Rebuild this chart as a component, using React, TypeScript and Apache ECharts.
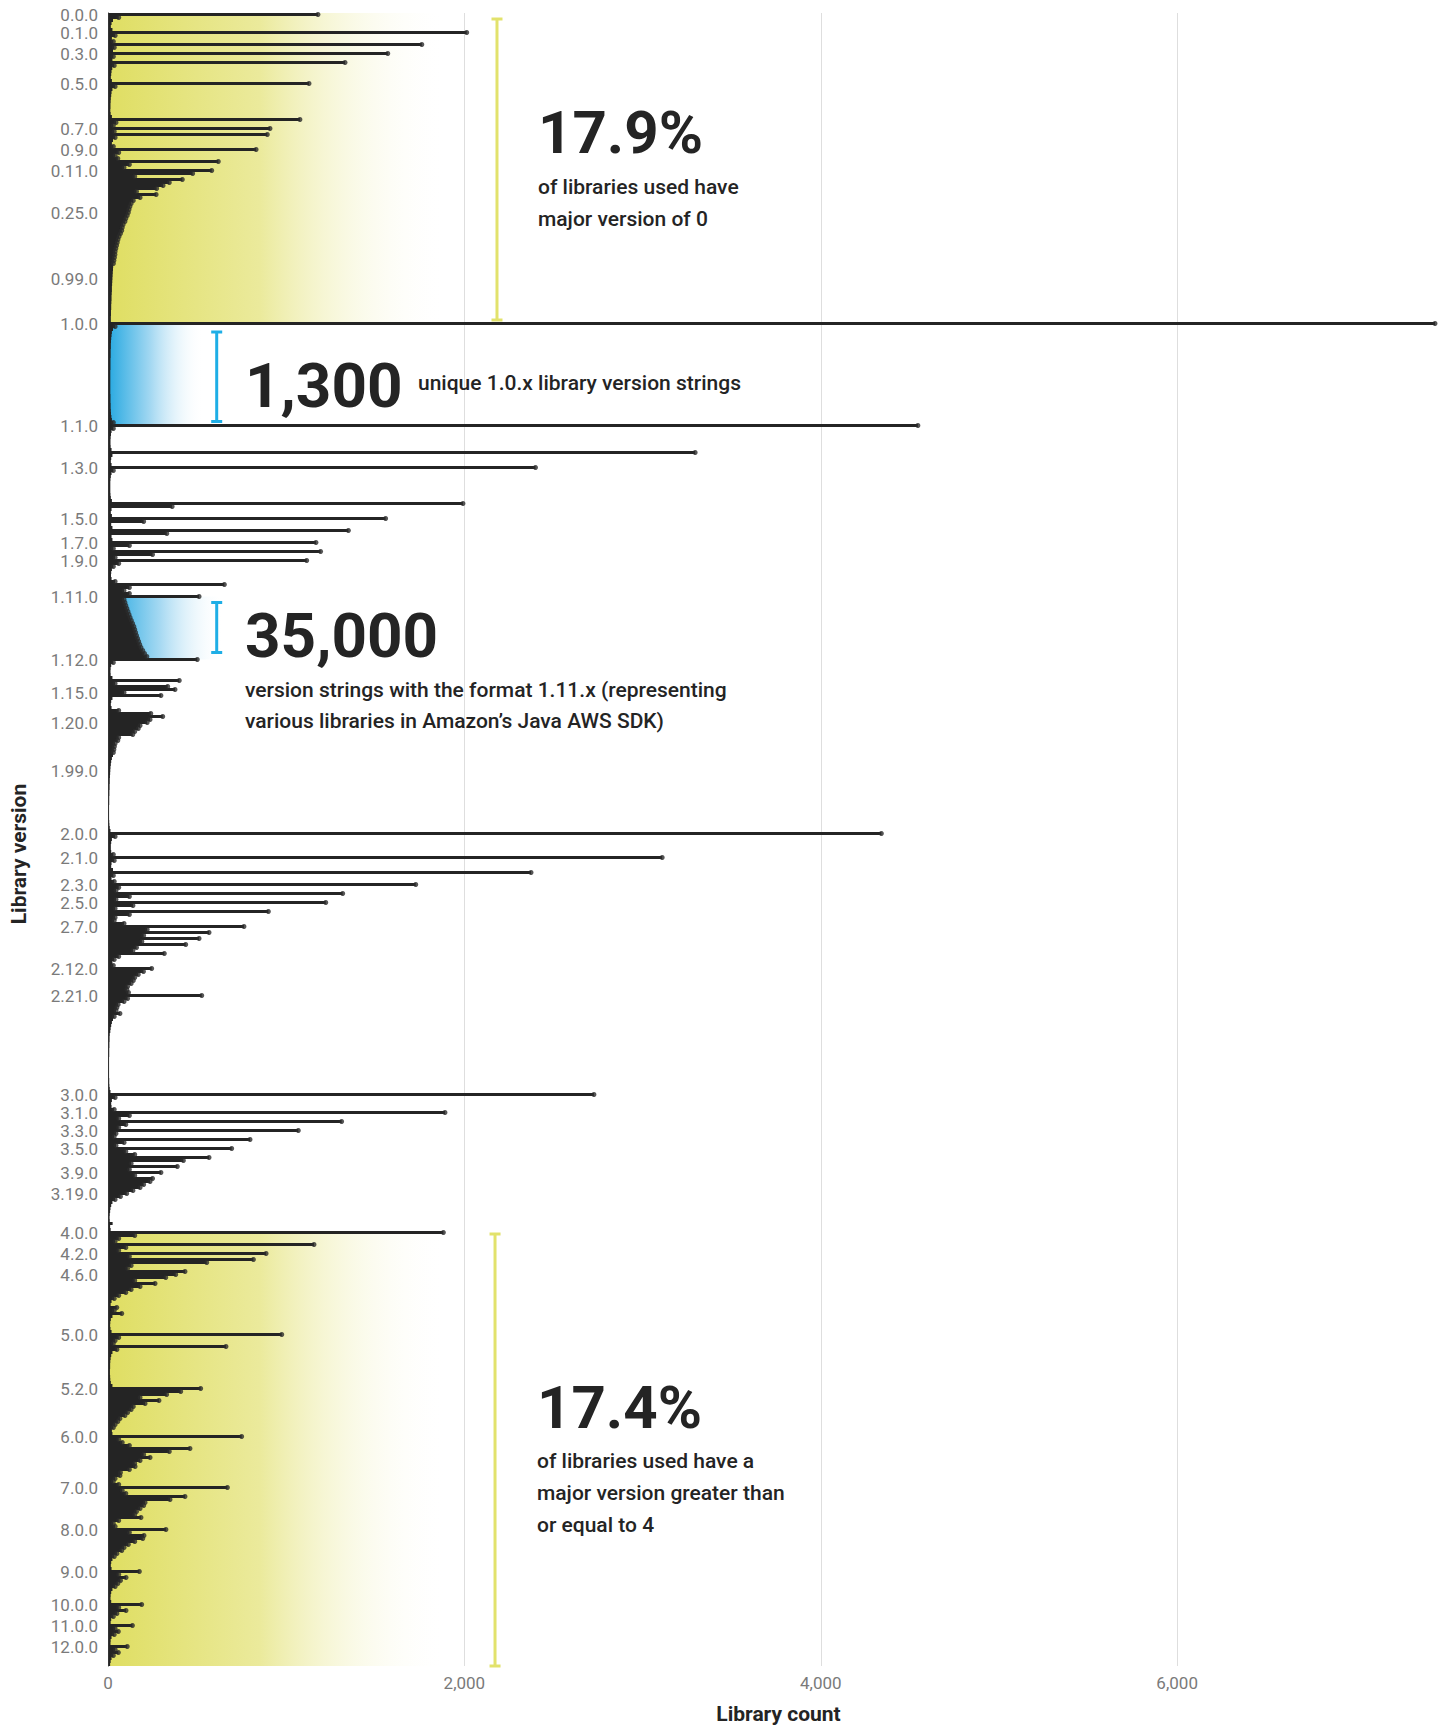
import React, { useEffect, useRef } from "react";
import * as echarts from "echarts";

// Each segment: a named version followed by the counts of that version and the
// unnamed versions that come right after it (in sorted version order).
type Seg = [string, number[]];

const major0: Seg[] = [
  ["0.0.0", [1178, 60, 28, 20, 16, 25]],
  ["0.1.0", [2013, 40, 22, 30]],
  ["0.2.0", [1761, 35, 28]],
  ["0.3.0", [1570, 30, 25]],
  ["0.4.0", [1330, 35, 24, 20, 18, 16, 22]],
  ["0.5.0", [1128, 40, 25, 20, 18, 16, 15, 14, 14, 13, 15, 22]],
  ["0.6.0", [1077, 45, 30]],
  ["0.7.0", [909, 35]],
  ["0.8.0", [894, 40, 28, 22, 30]],
  ["0.9.0", [831, 60, 40, 55]],
  ["0.10.0", [619, 120, 90]],
  ["0.11.0", [582]],
  ["0.12.0", [475, 150]],
  ["0.13.0", [417]],
  ["0.14.0", [344]],
  ["0.15.0", [309]],
  ["0.16.0", [273, 160]],
  ["0.17.0", [270]],
  ["0.18.0", [180, 142, 130, 123, 118]],
  ["0.25.0", [114, 108, 100, 95, 85, 80, 77, 70, 62, 56, 52, 48, 44, 40, 39, 36, 33, 30, 29, 28, 27, 26]],
  ["0.99.0", [25, 24, 23, 22, 22, 21, 20, 20, 19, 18, 18, 17, 17, 16, 16]],
];

const major1: Seg[] = [
  ["1.0.0", [7447, 40, 28, 22, 20, 18, 17, 16, 16, 15, 15, 15, 14, 14, 14, 14, 13, 13, 13, 13, 13, 13, 13, 13, 14, 14, 14, 15, 15, 16, 17, 19, 22, 30]],
  ["1.1.0", [4545, 30, 20, 17, 15, 14, 14, 15, 20]],
  ["1.2.0", [3295, 25, 18, 16, 20]],
  ["1.3.0", [2399, 30, 20, 16, 14, 13, 13, 13, 13, 14, 16, 22]],
  ["1.4.0", [1992, 360, 20, 16, 22]],
  ["1.5.0", [1558, 200, 18, 25]],
  ["1.6.0", [1349, 330, 20, 25]],
  ["1.7.0", [1167, 120, 30]],
  ["1.8.0", [1193, 250, 40]],
  ["1.9.0", [1115, 60, 30, 22, 18, 17, 20, 40]],
  ["1.10.0", [653, 120, 90, 120]],
  ["1.11.0", [511, 90, 95, 100, 106, 112, 118, 124, 131, 138, 145, 150, 155, 160, 166, 172, 178, 185, 195, 205, 218]],
  ["1.12.0", [501, 30, 18, 15, 14, 15, 25]],
  ["1.13.0", [400, 40]],
  ["1.14.0", [335, 376]],
  ["1.15.0", [90, 297, 25, 18, 16, 20, 60]],
  ["1.16.0", [240, 307, 236]],
  ["1.20.0", [220, 180, 170, 150, 139, 60, 55, 40, 36, 33, 30, 28, 22, 18, 16, 14]],
  ["1.99.0", [13, 12, 11, 10, 10, 9, 9, 8, 8, 7, 7, 7, 6, 6, 6, 6, 6, 7, 8, 10, 14]],
];

const major2: Seg[] = [
  ["2.0.0", [4340, 40, 22, 18, 16, 16, 18, 30]],
  ["2.1.0", [3110, 35, 20, 18, 28]],
  ["2.2.0", [2374, 30, 20, 35]],
  ["2.3.0", [1727, 60, 45]],
  ["2.4.0", [1317, 120, 45]],
  ["2.5.0", [1222, 140, 40]],
  ["2.6.0", [900, 120, 40, 35, 90]],
  ["2.7.0", [763, 220, 567, 200, 511, 190, 436, 160, 140, 316, 60, 35, 25, 30]],
  ["2.12.0", [245, 199, 170, 150, 142, 130, 110, 106, 115]],
  ["2.21.0", [526, 110, 90, 57, 50, 45, 67, 35, 28, 22, 18, 15, 13, 10, 9, 9, 8, 8, 7, 7, 7, 6, 6, 6, 6, 6, 6, 6, 7, 7, 8, 10, 14]],
];

const major3: Seg[] = [
  ["3.0.0", [2727, 40, 22, 18, 20, 35]],
  ["3.1.0", [1891, 120, 60]],
  ["3.2.0", [1311, 100, 60]],
  ["3.3.0", [1068, 45, 35]],
  ["3.4.0", [797, 90, 45]],
  ["3.5.0", [694, 100, 150]],
  ["3.6.0", [567]],
  ["3.7.0", [423, 130]],
  ["3.8.0", [389, 120]],
  ["3.9.0", [297, 150]],
  ["3.10.0", [250, 236, 200, 180, 140]],
  ["3.19.0", [105, 70, 40, 25, 18, 14, 12, 10, 9, 10, 26, 12, 15]],
];

const major4plus: Seg[] = [
  ["4.0.0", [1882, 150, 60, 40]],
  ["4.1.0", [1156, 100, 60]],
  ["4.2.0", [887, 120]],
  ["4.3.0", [816]],
  ["4.4.0", [554, 130, 110]],
  ["4.5.0", [432]],
  ["4.6.0", [380]],
  ["4.7.0", [324, 150]],
  ["4.8.0", [264, 180, 130, 100, 60, 35, 20, 15, 49, 35, 77, 25, 16, 13, 12, 14, 20]],
  ["5.0.0", [975, 60, 40, 30]],
  ["5.1.0", [662, 50, 25, 18, 15, 13, 12, 12, 11, 11, 12, 13, 16, 25]],
  ["5.2.0", [520, 408, 329, 180, 286, 208, 142, 130, 110, 95, 67, 55, 40, 30, 22, 25]],
  ["6.0.0", [750, 60, 80, 120, 460, 344, 200, 236, 180, 150, 152, 120, 70, 67, 40, 30, 60]],
  ["7.0.0", [670, 80, 100, 432, 348, 208, 200, 180, 160, 150, 185, 60, 30, 40]],
  ["8.0.0", [325, 120, 202, 195, 150, 114, 90, 77, 50, 35, 25, 18, 16, 20]],
  ["9.0.0", [176, 60, 101, 70, 55, 40, 25, 18, 15, 14, 18]],
  ["10.0.0", [189, 60, 101, 50, 30, 18, 15]],
  ["11.0.0", [137, 40, 58, 35, 20, 15, 14]],
  ["12.0.0", [108, 40, 58, 30, 20, 15, 12]],
];

// Version labels shown on the y axis
const tickLabels = [
  "0.0.0", "0.1.0", "0.3.0", "0.5.0", "0.7.0", "0.9.0", "0.11.0", "0.25.0", "0.99.0",
  "1.0.0", "1.1.0", "1.3.0", "1.5.0", "1.7.0", "1.9.0", "1.11.0", "1.12.0", "1.15.0", "1.20.0", "1.99.0",
  "2.0.0", "2.1.0", "2.3.0", "2.5.0", "2.7.0", "2.12.0", "2.21.0",
  "3.0.0", "3.1.0", "3.3.0", "3.5.0", "3.9.0", "3.19.0",
  "4.0.0", "4.2.0", "4.6.0", "5.0.0", "5.2.0", "6.0.0", "7.0.0", "8.0.0", "9.0.0", "10.0.0", "11.0.0", "12.0.0",
];

const xMax = 7447;
const xInterval = 2000;

const FONT = "Roboto, 'Noto Sans', sans-serif";
const DARK = "#242424";
const YELLOW = "#e2e26c";
const YELLOW_FILL = "#dfde62";
const YELLOW_MID = "#ebea9c";
const BLUE = "#1eaee6";
const BLUE_FILL = "#27a9e1";
const BLUE_MID = "#a6d9f2";

export default function App() {
  const ref = useRef<HTMLDivElement>(null);

  useEffect(() => {
    document.body.style.margin = "0";
    const el = ref.current!;
    const chart = echarts.init(el, null, { renderer: "svg" });

    const segs = [...major0, ...major1, ...major2, ...major3, ...major4plus];
    const cats: string[] = [];
    const counts: number[] = [];
    segs.forEach(([name, vals]) =>
      vals.forEach((v, k) => {
        cats.push(k === 0 ? name : `${name}+${k}`);
        counts.push(v);
      })
    );
    const idx = (name: string) => cats.indexOf(name);
    const last = cats.length - 1;
    const shown = new Set(tickLabels);
    const dots = counts.map((v, i) => (v >= 30 ? [v, i] : ["-", i]));

    chart.setOption({
      animation: false,
      textStyle: { fontFamily: FONT },
      grid: { left: 108, right: 5, top: 13, bottom: 61, containLabel: false, outerBoundsMode: "none" },
      xAxis: {
        type: "value",
        min: 0,
        max: xMax,
        interval: xInterval,
        axisLine: { show: false },
        axisTick: { show: false },
        splitLine: { show: true, showMinLine: false, showMaxLine: false, lineStyle: { color: "#dedede", width: 1 } },
        axisLabel: { color: "#7a7a7a", fontSize: 17, margin: 8, showMaxLabel: false, fontFamily: FONT },
        name: "Library count",
        nameLocation: "middle",
        nameGap: 37,
        nameTextStyle: { color: DARK, fontSize: 21, fontWeight: "bold", fontFamily: FONT, padding: [0, 0, 0, 14] },
      },
      yAxis: {
        type: "category",
        inverse: true,
        data: cats,
        boundaryGap: true,
        axisLine: { show: true, lineStyle: { color: "#333", width: 1 } },
        axisTick: { show: false },
        splitLine: { show: false },
        z: 5,
        axisLabel: {
          interval: (_i: number, v: string) => shown.has(v),
          color: "#7a7a7a",
          fontSize: 17,
          margin: 10,
          padding: [5, 0, 0, 0],
          fontFamily: FONT,
        },
      },
      series: [
        {
          type: "bar",
          data: counts,
          barCategoryGap: 0,
          barGap: 0,
          itemStyle: { color: DARK },
          silent: true,
          z: 2,
        },
        {
          type: "scatter",
          data: dots,
          symbol: "circle",
          symbolSize: 5,
          silent: true,
          itemStyle: { color: "#2a2a2a" },
          z: 3,
        },
      ],
    });

    const px = (v: number, i: number) => chart.convertToPixel({ gridIndex: 0 }, [v, i]) as number[];

    // Gradient band behind a range of versions, from count 0 to count `toV`
    const band = (from: number, to: number, toV: number, color: string, mid: string, dTop: number, dBot: number) => {
      const [x0, y0] = px(0, from);
      const [x1, y1] = px(toV, to);
      return {
        type: "rect",
        z: 1,
        silent: true,
        shape: { x: x0, y: y0 + dTop, width: x1 - x0, height: y1 + dBot - (y0 + dTop) },
        style: {
          fill: new echarts.graphic.LinearGradient(0, 0, 1, 0, [
            { offset: 0, color },
            { offset: 0.45, color: mid },
            { offset: 1, color: "rgba(255,255,255,0)" },
          ]),
        },
      };
    };

    const bracket = (v: number, from: number, dFrom: number, to: number, dTo: number, color: string) => {
      const [x, y1] = px(v, from);
      const y2 = px(v, to)[1];
      const top = y1 + dFrom;
      const bot = y2 + dTo;
      const st = { stroke: color, lineWidth: 3 };
      return {
        type: "group",
        silent: true,
        children: [
          { type: "line", z: 50, shape: { x1: x, y1: top, x2: x, y2: bot }, style: st },
          { type: "line", z: 50, shape: { x1: x - 5.5, y1: top, x2: x + 5.5, y2: top }, style: st },
          { type: "line", z: 50, shape: { x1: x - 5.5, y1: bot, x2: x + 5.5, y2: bot }, style: st },
        ],
      };
    };

    const big = (text: string, x: number, y: number, fs = 62) => ({
      type: "text",
      x,
      y,
      z: 50,
      silent: true,
      style: { text, fill: DARK, fontSize: fs, fontWeight: "bold", fontFamily: FONT, align: "left", verticalAlign: "middle" },
    });
    const body = (text: string, x: number, y: number, lh: number, va = "top") => ({
      type: "text",
      x,
      y,
      z: 50,
      silent: true,
      style: { text, fill: DARK, fontSize: 21, fontWeight: 500, fontFamily: FONT, lineHeight: lh, align: "left", verticalAlign: va },
    });

    chart.setOption({
      graphic: [
        band(idx("0.0.0"), idx("1.0.0"), 1900, YELLOW_FILL, YELLOW_MID, -1.5, 0),
        band(idx("1.0.0"), idx("1.1.0"), 540, BLUE_FILL, BLUE_MID, 1.5, 0),
        band(idx("1.11.0"), idx("1.12.0"), 650, BLUE_FILL, BLUE_MID, 0, 0),
        band(idx("4.0.0"), last, 1900, YELLOW_FILL, YELLOW_MID, 0, 1.5),
        bracket(2183, idx("0.0.0"), 4.5, idx("1.0.0"), -3.5, YELLOW),
        bracket(2172, idx("4.0.0"), 1.5, last, 1.5, YELLOW),
        bracket(610, idx("1.0.0"), 8.5, idx("1.1.0"), -4, BLUE),
        bracket(610, idx("1.11.0"), 6, idx("1.12.0"), -7, BLUE),
        big("17.9%", 538, 132.5, 60),
        body("of libraries used have\nmajor version of 0", 538, 171, 32),
        big("1,300", 245, 385),
        body("unique 1.0.x library version strings", 418, 382.5, 32, "middle"),
        big("35,000", 245, 635),
        body("version strings with the format 1.11.x (representing\nvarious libraries in Amazon\u2019s Java AWS SDK)", 245, 674, 31),
        big("17.4%", 537, 1407.5, 60),
        body("of libraries used have a\nmajor version greater than\nor equal to 4", 537, 1444.5, 32),
        {
          type: "text",
          x: 19,
          y: 854,
          z: 50,
          rotation: Math.PI / 2,
          silent: true,
          style: { text: "Library version", fill: DARK, fontSize: 21, fontWeight: "bold", fontFamily: FONT, align: "center", verticalAlign: "middle" },
        },
      ],
    });

    return () => chart.dispose();
  }, []);

  return <div ref={ref} style={{ width: 1440, height: 1727 }} />;
}
